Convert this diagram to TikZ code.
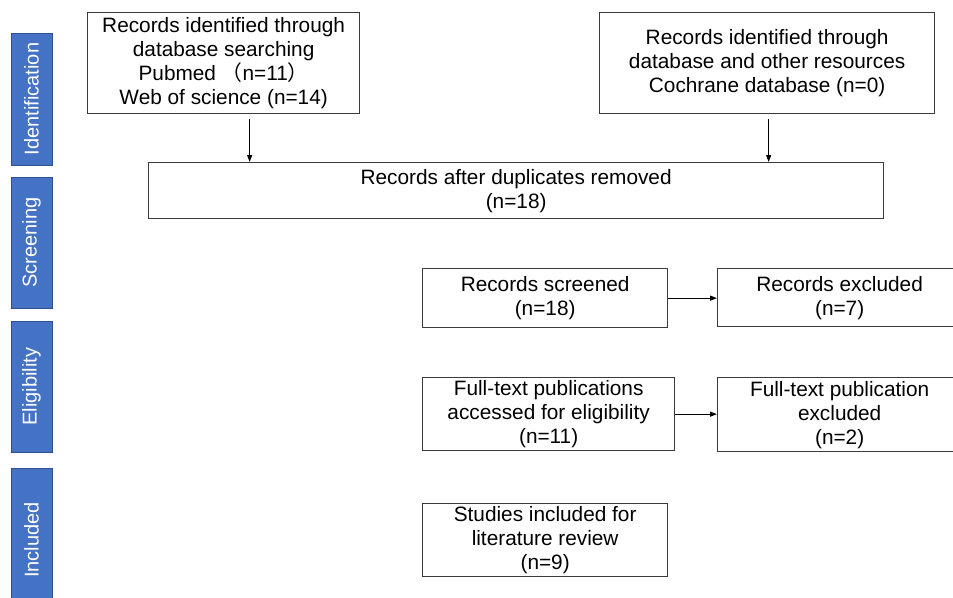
\documentclass[tikz,border=0pt]{standalone}
\usepackage{fontspec}
\setmainfont{Liberation Sans}
\newfontfamily\cjkfont{Noto Sans CJK SC}
\usetikzlibrary{arrows.meta}
\definecolor{sideblue}{HTML}{4472C4}
\definecolor{sideline}{HTML}{2F528F}
\definecolor{boxline}{HTML}{3A3A3A}
\newcommand\boxfont{\fontsize{20.8}{24}\selectfont}
\newcommand\sidefont{\fontsize{20}{24}\selectfont}
\begin{document}
\begin{tikzpicture}[x=1pt,y=-1pt,
  box/.style={draw=boxline,line width=1.3pt,align=center,inner sep=0pt,anchor=north west,font=\boxfont},
  side/.style={fill=sideblue,draw=sideline,line width=.8pt,rotate=90,inner sep=0pt,
    minimum height=41pt,text=white,font=\sidefont},
  arr/.style={-{Triangle[length=7pt,width=5pt]},line width=1.2pt,black}]
  \useasboundingbox (0,0) rectangle (953,597);
  \clip (0,0) rectangle (953,597);
  \foreach \lab/\yc/\len [count=\i] in {Identification/99/132,Screening/242.5/131,
      Eligibility/386.5/131,Included/540/144} {
    \node[side,minimum width=\len pt] (side\i) at (31.5,\yc) {\lab};
  }
  \node[box,minimum width=272pt,minimum height=101pt] (ident) at (87,12)
    {Records identified through\\database searching\\Pubmed {\cjkfont （}n=11{\cjkfont ）}\\Web of science (n=14)};
  \node[box,minimum width=335pt,minimum height=101pt] (dbother) at (599,12)
    {Records identified through\\database and other resources\\Cochrane database (n=0)};
  \node[box,minimum width=735pt,minimum height=56pt] (dedup) at (148,162)
    {Records after duplicates removed\\(n=18)};
  \node[box,minimum width=245pt,minimum height=59pt] (screened) at (422,268)
    {Records screened\\(n=18)};
  \node[box,minimum width=244pt,minimum height=58pt] (excl) at (717,268)
    {Records excluded\\(n=7)};
  \node[box,minimum width=252pt,minimum height=73pt] (fulltext) at (422,377)
    {Full-text publications\\accessed for eligibility\\(n=11)};
  \node[box,minimum width=244pt,minimum height=74pt] (ftexcl) at (717,377)
    {Full-text publication\\excluded\\(n=2)};
  \node[box,minimum width=245pt,minimum height=73pt] (included) at (422,503)
    {Studies included for\\literature review\\(n=9)};
  \draw[arr] ([shift={(26,5)}]ident.south) -- ([xshift=26pt]ident.south |- dedup.north);
  \draw[arr] ([shift={(1.5,5)}]dbother.south) -- ([xshift=1.5pt]dbother.south |- dedup.north);
  \draw[arr] (screened.east) -- (screened.east -| excl.west);
  \draw[arr] (fulltext.east) -- (fulltext.east -| ftexcl.west);
\end{tikzpicture}
\end{document}
